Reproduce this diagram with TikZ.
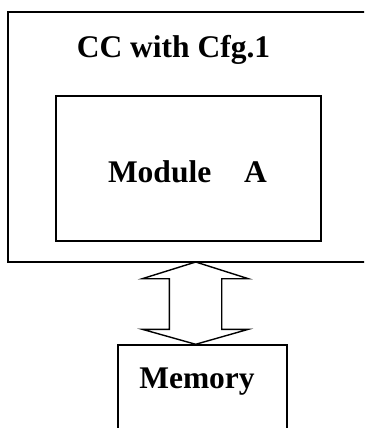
\documentclass[tikz,border=0pt]{standalone}
\usepackage{fontspec}
\setmainfont{Liberation Serif}
\begin{document}
\begin{tikzpicture}[x=1pt,y=1pt,
  box/.style={draw=black,line width=1.4pt,rectangle,inner sep=0pt},
  lbl/.style={font=\fontsize{31.5}{36}\selectfont\bfseries,anchor=base,inner sep=0pt},
  bus/.style={draw=black,line width=1.4pt,fill=white,line join=miter}]
\useasboundingbox (0,0) rectangle (364,-428);
\clip (0,0) rectangle (364,-428);
\node[box,minimum width=362pt,minimum height=250pt] (outer) at (189,-137) {};
\node[box,minimum width=265pt,minimum height=145pt] (inner) at (188.5,-168.5) {};
\node[box,minimum width=169pt,minimum height=95pt] (mem) at (202.5,-392.5) {};
\node[lbl] (cc) at (173.5,-57) {CC with Cfg.1};
\node[lbl] (moda) at (187.5,-182) {Module\hspace{33pt}A};
\node[lbl] (memt) at (197,-388) {Memory};
\coordinate (tipT) at (195.7,-262);
\coordinate (tipB) at (195.7,-344.3);
\draw[bus] (tipT) -- (248.3,-278.7) -- (221.7,-278.7) -- (221.7,-329.3) -- (248.3,-329.3)
  -- (tipB) -- (142.3,-329.3) -- (169.3,-329.3) -- (169.3,-278.7) -- (142.3,-278.7) -- cycle;
\end{tikzpicture}
\end{document}
